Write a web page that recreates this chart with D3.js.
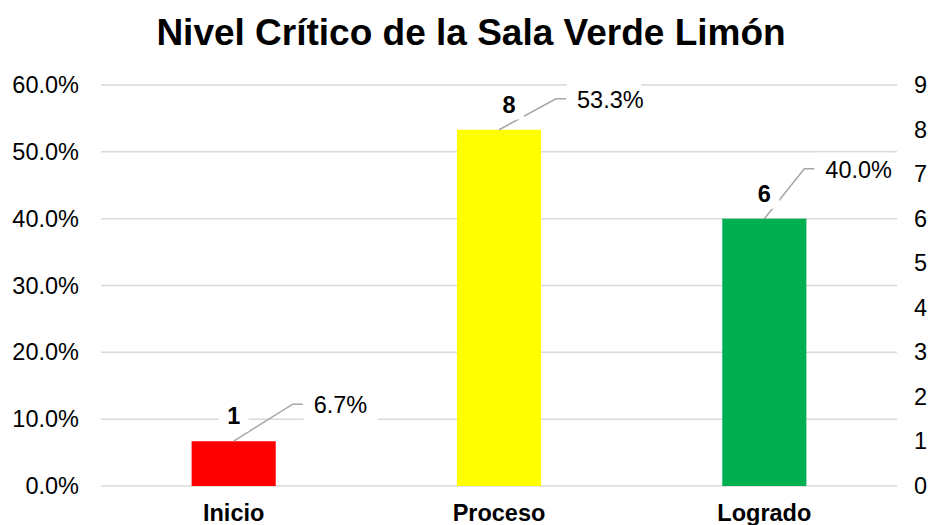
<!DOCTYPE html>
<html><head><meta charset="utf-8">
<script src="https://cdn.jsdelivr.net/npm/d3@7"></script>
<style>body{margin:0;background:#fff;} text{font-family:"Liberation Sans",Arial,sans-serif;}</style>
</head><body><svg id="c" width="931" height="525"></svg>
<script>
const categories = ["Inicio", "Proceso", "Logrado"];
const counts = [1, 8, 6];
const percents = [0.067, 0.533, 0.40];
const colors = ["#ff0000", "#ffff00", "#00b050"];
const leftTicks = [0, 0.1, 0.2, 0.3, 0.4, 0.5, 0.6];
const rightTicks = [0,1,2,3,4,5,6,7,8,9];
const title = "Nivel Crítico de la Sala Verde Limón";

// layout for labels (offsets from bar top)
const leader = [{dx:59, dy:-37}, {dx:57, dy:-31}, {dx:40, dy:-50}];
const countDx = [0, 10, 0];

const svg = d3.select("#c");
const L = 101, R = 897, T = 85, B = 486;
const FS = 23.5;
const x = d3.scaleBand().domain(categories).range([L, R]).paddingInner(0.683).paddingOuter(0.3415);
const yL = d3.scaleLinear().domain([0, 0.6]).range([B, T]);
const yR = d3.scaleLinear().domain([0, 9]).range([B, T]);

svg.append("text").attr("x", 471).attr("y", 45).attr("text-anchor", "middle")
  .attr("font-size", 37).attr("font-weight", "bold").text(title);

// gridlines
svg.append("g").selectAll("line").data(leftTicks).join("line")
  .attr("x1", L).attr("x2", R).attr("y1", d => yL(d)).attr("y2", d => yL(d))
  .attr("stroke", "#d9d9d9").attr("stroke-width", 1.5);

// left axis
const ga = svg.append("g").attr("transform", `translate(${L},0)`)
  .call(d3.axisLeft(yL).tickValues(leftTicks).tickFormat(d3.format(".1%")).tickSize(0).tickPadding(22));
ga.select(".domain").remove();
ga.selectAll("text").attr("font-size", FS).attr("fill", "#000").style("font-family", "Liberation Sans, Arial, sans-serif");

const gr = svg.append("g").attr("transform", `translate(${R},0)`)
  .call(d3.axisRight(yR).tickValues(rightTicks).tickFormat(d3.format("d")).tickSize(0).tickPadding(17));
gr.select(".domain").remove();
gr.selectAll("text").attr("font-size", FS).attr("fill", "#000").style("font-family", "Liberation Sans, Arial, sans-serif");

// category labels
const gx = svg.append("g").attr("transform", `translate(0,${B})`)
  .call(d3.axisBottom(x).tickSize(0).tickPadding(18));
gx.select(".domain").remove();
gx.selectAll("text").attr("font-size", FS).attr("font-weight", "bold").attr("fill", "#000").style("font-family", "Liberation Sans, Arial, sans-serif");

// bars
svg.append("g").selectAll("rect").data(categories).join("rect")
  .attr("x", d => x(d)).attr("width", x.bandwidth())
  .attr("y", (d, i) => yL(percents[i])).attr("height", (d, i) => B - yL(percents[i]))
  .attr("fill", (d, i) => colors[i]);

// percent labels with leader lines
categories.forEach((c, i) => {
  const cx = x(c) + x.bandwidth() / 2, cy = yL(percents[i]);
  const ex = cx + leader[i].dx, ey = cy + leader[i].dy;
  const txt = d3.format(".1%")(percents[i]);
  svg.append("path").attr("d", `M${cx},${cy}L${ex},${ey}L${ex + 10},${ey}`)
    .attr("fill", "none").attr("stroke", "#a6a6a6").attr("stroke-width", 1.5);
  svg.append("rect").attr("x", ex + 11).attr("y", ey - 16).attr("width", 74).attr("height", 32).attr("fill", "#fff");
  svg.append("text").attr("x", ex + 21).attr("y", ey + 9).attr("font-size", FS).text(txt);
  // count label
  const kx = cx + countDx[i], kb = yR(counts[i]) - 17;
  svg.append("rect").attr("x", kx - 15).attr("y", kb - 22).attr("width", 30).attr("height", 29).attr("fill", "#fff");
  svg.append("text").attr("x", kx).attr("y", kb).attr("text-anchor", "middle")
    .attr("font-size", FS).attr("font-weight", "bold").text(counts[i]);
});
</script></body></html>
